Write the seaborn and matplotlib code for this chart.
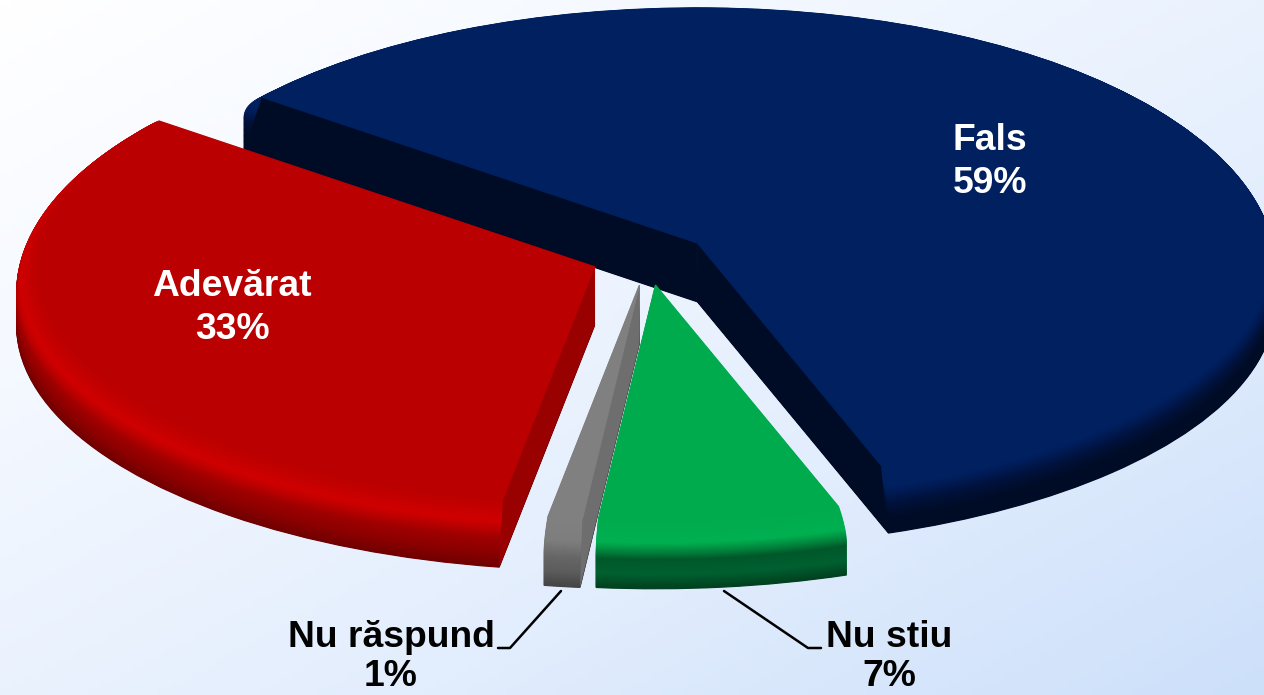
import numpy as np
import matplotlib
matplotlib.use("Agg")
import matplotlib.pyplot as plt
from matplotlib.lines import Line2D
import seaborn as sns

W, H = 1264, 695

# datos del grafico (orden horario desde Fals)
categorias = ["Fals", "Nu stiu", "Nu răspund", "Adevărat"]
valores = [59, 7, 1, 33]
explode = [0.105, 0.111, 0.111, 0.099]

# degradado del borde de cada porcion, de arriba hacia abajo
top_color = ["#002060", "#00AB4D", "#808080", "#BA0000"]
rim_stops = [
    ["#002060", "#002060", "#00113a", "#000c26", "#000c26"],
    ["#00AB4D", "#00B050", "#00582a", "#006030", "#00401f"],
    ["#808080", "#7e7e7e", "#666666", "#5c5c5c", "#444444"],
    ["#BA0000", "#D00000", "#A00000", "#8c0000", "#700000"],
]
cut_color = ["#000c26", "#008a3e", "#6e6e6e", "#990000"]
orden = {"Fals": 0, "Adevárat": 1}
orden = {"Fals": 0, "Adevărat": 1, "Nu răspund": 2, "Nu stiu": 3}

sns.set_theme(style="white")
plt.rcParams["font.family"] = ["Liberation Sans", "DejaVu Sans"]

fig = plt.figure(figsize=(W / 100, H / 100), dpi=100)

# fondo
ax_bg = fig.add_axes([0, 0, 1, 1], zorder=0)
cmap = sns.blend_palette(["#ffffff", "#f2f7ff", "#e2edfd", "#cde0fa"], as_cmap=True)
xx, yy = np.meshgrid(np.linspace(0, 1, 200), np.linspace(0, 1, 120))
ax_bg.imshow(0.5 * xx + 0.5 * yy, cmap=cmap, vmin=0, vmax=1, aspect="auto")
ax_bg.axis("off")

# torta: capas apiladas para simular el volumen
ax = fig.add_axes([0, 0, 1, 1], zorder=1)
ax.patch.set_alpha(0)
n_capas = 70
alto = 0.24
bevel = 0.04
paletas = [sns.blend_palette(s, n_colors=n_capas) for s in rim_stops]

capa_top = None
for i in range(n_capas - 1, -1, -1):
    z = alto * i / (n_capas - 1)
    r = 1 - bevel * max(1 - i / (0.45 * n_capas), 0) ** 2
    colores = [p[i] for p in paletas]
    wedges, _ = ax.pie(valores, explode=explode, colors=colores, radius=r, center=(0, -z),
                       startangle=141.7, counterclock=False, frame=True,
                       wedgeprops={"linewidth": 0.8})
    for w, c in zip(wedges, categorias):
        w.set_edgecolor(w.get_facecolor())
        w.set_zorder(orden[c] * 1000 + n_capas - i)
    if i == 0:
        capa_top = wedges

# caras de corte (solo las que miran hacia el frente)
for k, w in enumerate(capa_top):
    cx, cy = w.center
    zc = orden[categorias[k]] * 1000 + n_capas
    for t, lado in ((w.theta1, 1), (w.theta2, -1)):
        dx, dy = np.cos(np.radians(t)), np.sin(np.radians(t))
        if dx * lado <= 0:
            continue
        ax.fill([cx, cx + w.r * dx, cx + dx, cx, cx],
                [cy, cy + w.r * dy, cy + dy - alto, cy - alto, cy],
                color=cut_color[k], lw=0, zorder=zc)
    w.set_facecolor(top_color[k])
    w.set_edgecolor(top_color[k])
    w.set_zorder(zc + 1)

rx, ry, cx0, cy0 = 578, 245, 648, 258
ax.set_aspect("auto")
ax.set_xlim(-cx0 / rx, (W - cx0) / rx)
ax.set_ylim((cy0 - H) / ry, cy0 / ry)
ax.axis("off")


def px(x, y):
    return x / W, 1 - y / H


# etiquetas (y = linea base de cada renglon)
etiquetas = [
    ("Fals", "59%", 990, 150, 193, "white"),
    ("Adevărat", "33%", 232, 296, 339, "white"),
    ("Nu răspund", "1%", 391, 647, 686, "black"),
    ("Nu stiu", "7%", 889, 647, 686, "black"),
]
for nombre, pct, x, y1, y2, col in etiquetas:
    fx, fy = px(x, y1)
    fig.text(fx, fy, nombre, color=col, fontsize=26.8, fontweight="bold", ha="center", va="baseline", zorder=5)
    fx, fy = px(x, y2)
    fig.text(fx, fy, pct, color=col, fontsize=26.8, fontweight="bold", ha="center", va="baseline", zorder=5)

# lineas guia
for xs, ys in [((561, 510, 498), (591, 648, 648)), ((724, 808, 821), (591, 648, 648))]:
    fig.add_artist(Line2D([x / W for x in xs], [1 - y / H for y in ys], color="black", lw=1.8, zorder=5))

fig.savefig("out.png", dpi=100)
